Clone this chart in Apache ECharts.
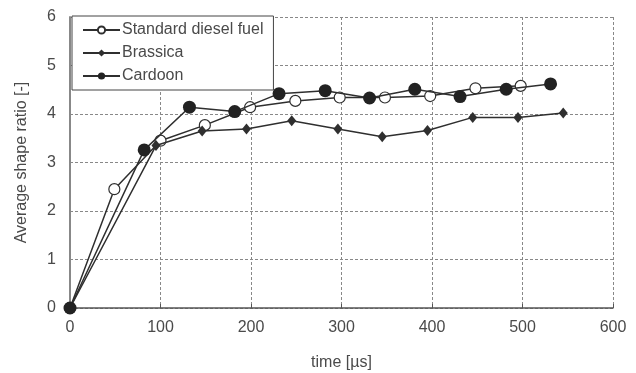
<!DOCTYPE html>
<html>
<head>
<meta charset="utf-8">
<script src="https://cdn.jsdelivr.net/npm/echarts@6/dist/echarts.min.js"></script>
<style>
  html, body { margin: 0; padding: 0; background: #fff; }
  #chart { width: 636px; height: 373px; }
</style>
</head>
<body>
<div id="chart"></div>
<script>
// Average droplet shape ratio over time for three fuels
const seriesNames = ['Standard diesel fuel', 'Brassica', 'Cardoon'];

const dieselTime  = [0, 49, 100, 149, 199, 249, 298, 348, 398, 448, 498];
const dieselRatio = [0, 2.45, 3.45, 3.77, 4.14, 4.27, 4.34, 4.34, 4.37, 4.53, 4.58];

const brassicaTime  = [0, 95, 146, 195, 245, 296, 345, 395, 445, 495, 545];
const brassicaRatio = [0, 3.35, 3.65, 3.69, 3.86, 3.69, 3.53, 3.66, 3.93, 3.93, 4.02];

const cardoonTime  = [0, 82, 132, 182, 231, 282, 331, 381, 431, 482, 531];
const cardoonRatio = [0, 3.26, 4.14, 4.05, 4.42, 4.48, 4.33, 4.51, 4.36, 4.51, 4.62];

const pairs = (xs, ys) => xs.map((x, i) => [x, ys[i]]);

const textColor = '#4a4a4a';
const lineColor = '#2f2f2f';
const font = 'Liberation Sans, Arial, sans-serif';

const chart = echarts.init(document.getElementById('chart'), null, { renderer: 'canvas' });

chart.setOption({
  animation: false,
  backgroundColor: '#fff',
  textStyle: { fontFamily: font },
  grid: {
    left: 70, right: 23, top: 17, bottom: 65,
    containLabel: false,
    outerBoundsMode: 'none'
  },
  legend: {
    data: seriesNames,
    orient: 'vertical',
    left: 72,
    top: 16,
    padding: [6, 10, 6, 10],
    itemGap: 7,
    itemWidth: 37,
    itemHeight: 9,
    backgroundColor: '#fff',
    borderColor: '#444',
    borderWidth: 1,
    textStyle: { fontSize: 16, color: textColor, fontFamily: font, padding: [0, 0, 0, -3] }
  },
  xAxis: {
    type: 'value',
    min: 0,
    max: 600,
    interval: 100,
    name: 'time [\u00b5s]',
    nameLocation: 'middle',
    nameGap: 47,
    nameTextStyle: { fontSize: 16, color: textColor, verticalAlign: 'top' },
    axisLine: { show: true, onZero: false, lineStyle: { color: '#555', width: 1.5 } },
    axisTick: { show: true, inside: true, length: 4, lineStyle: { color: '#555' } },
    axisLabel: { fontSize: 16, color: textColor, margin: 12 },
    splitLine: { show: true, lineStyle: { color: '#888', type: [3, 2], width: 1 } }
  },
  yAxis: {
    type: 'value',
    min: 0,
    max: 6,
    interval: 1,
    name: 'Average shape ratio [-]',
    nameLocation: 'middle',
    nameGap: 40,
    nameRotate: 90,
    nameTextStyle: { fontSize: 16, color: textColor },
    axisLine: { show: true, lineStyle: { color: '#888', width: 2 } },
    axisTick: { show: false },
    axisLabel: { fontSize: 16, color: textColor, margin: 14 },
    splitLine: { show: true, lineStyle: { color: '#888', type: [3, 2], width: 1 } }
  },
  series: [
    {
      name: seriesNames[0],
      type: 'line',
      data: pairs(dieselTime, dieselRatio),
      symbol: 'circle',
      symbolSize: 11,
      lineStyle: { color: lineColor, width: 1.5 },
      itemStyle: { color: '#fff', borderColor: lineColor, borderWidth: 1.2 },
      z: 3
    },
    {
      name: seriesNames[1],
      type: 'line',
      data: pairs(brassicaTime, brassicaRatio),
      symbol: 'diamond',
      symbolSize: [9, 11],
      lineStyle: { color: lineColor, width: 1.5 },
      itemStyle: { color: lineColor, borderColor: lineColor, borderWidth: 0 },
      z: 4
    },
    {
      name: seriesNames[2],
      type: 'line',
      data: pairs(cardoonTime, cardoonRatio),
      symbol: 'circle',
      symbolSize: 13,
      lineStyle: { color: lineColor, width: 1.5 },
      itemStyle: { color: '#222', borderColor: '#222', borderWidth: 0 },
      z: 5
    }
  ]
});
</script>
</body>
</html>
